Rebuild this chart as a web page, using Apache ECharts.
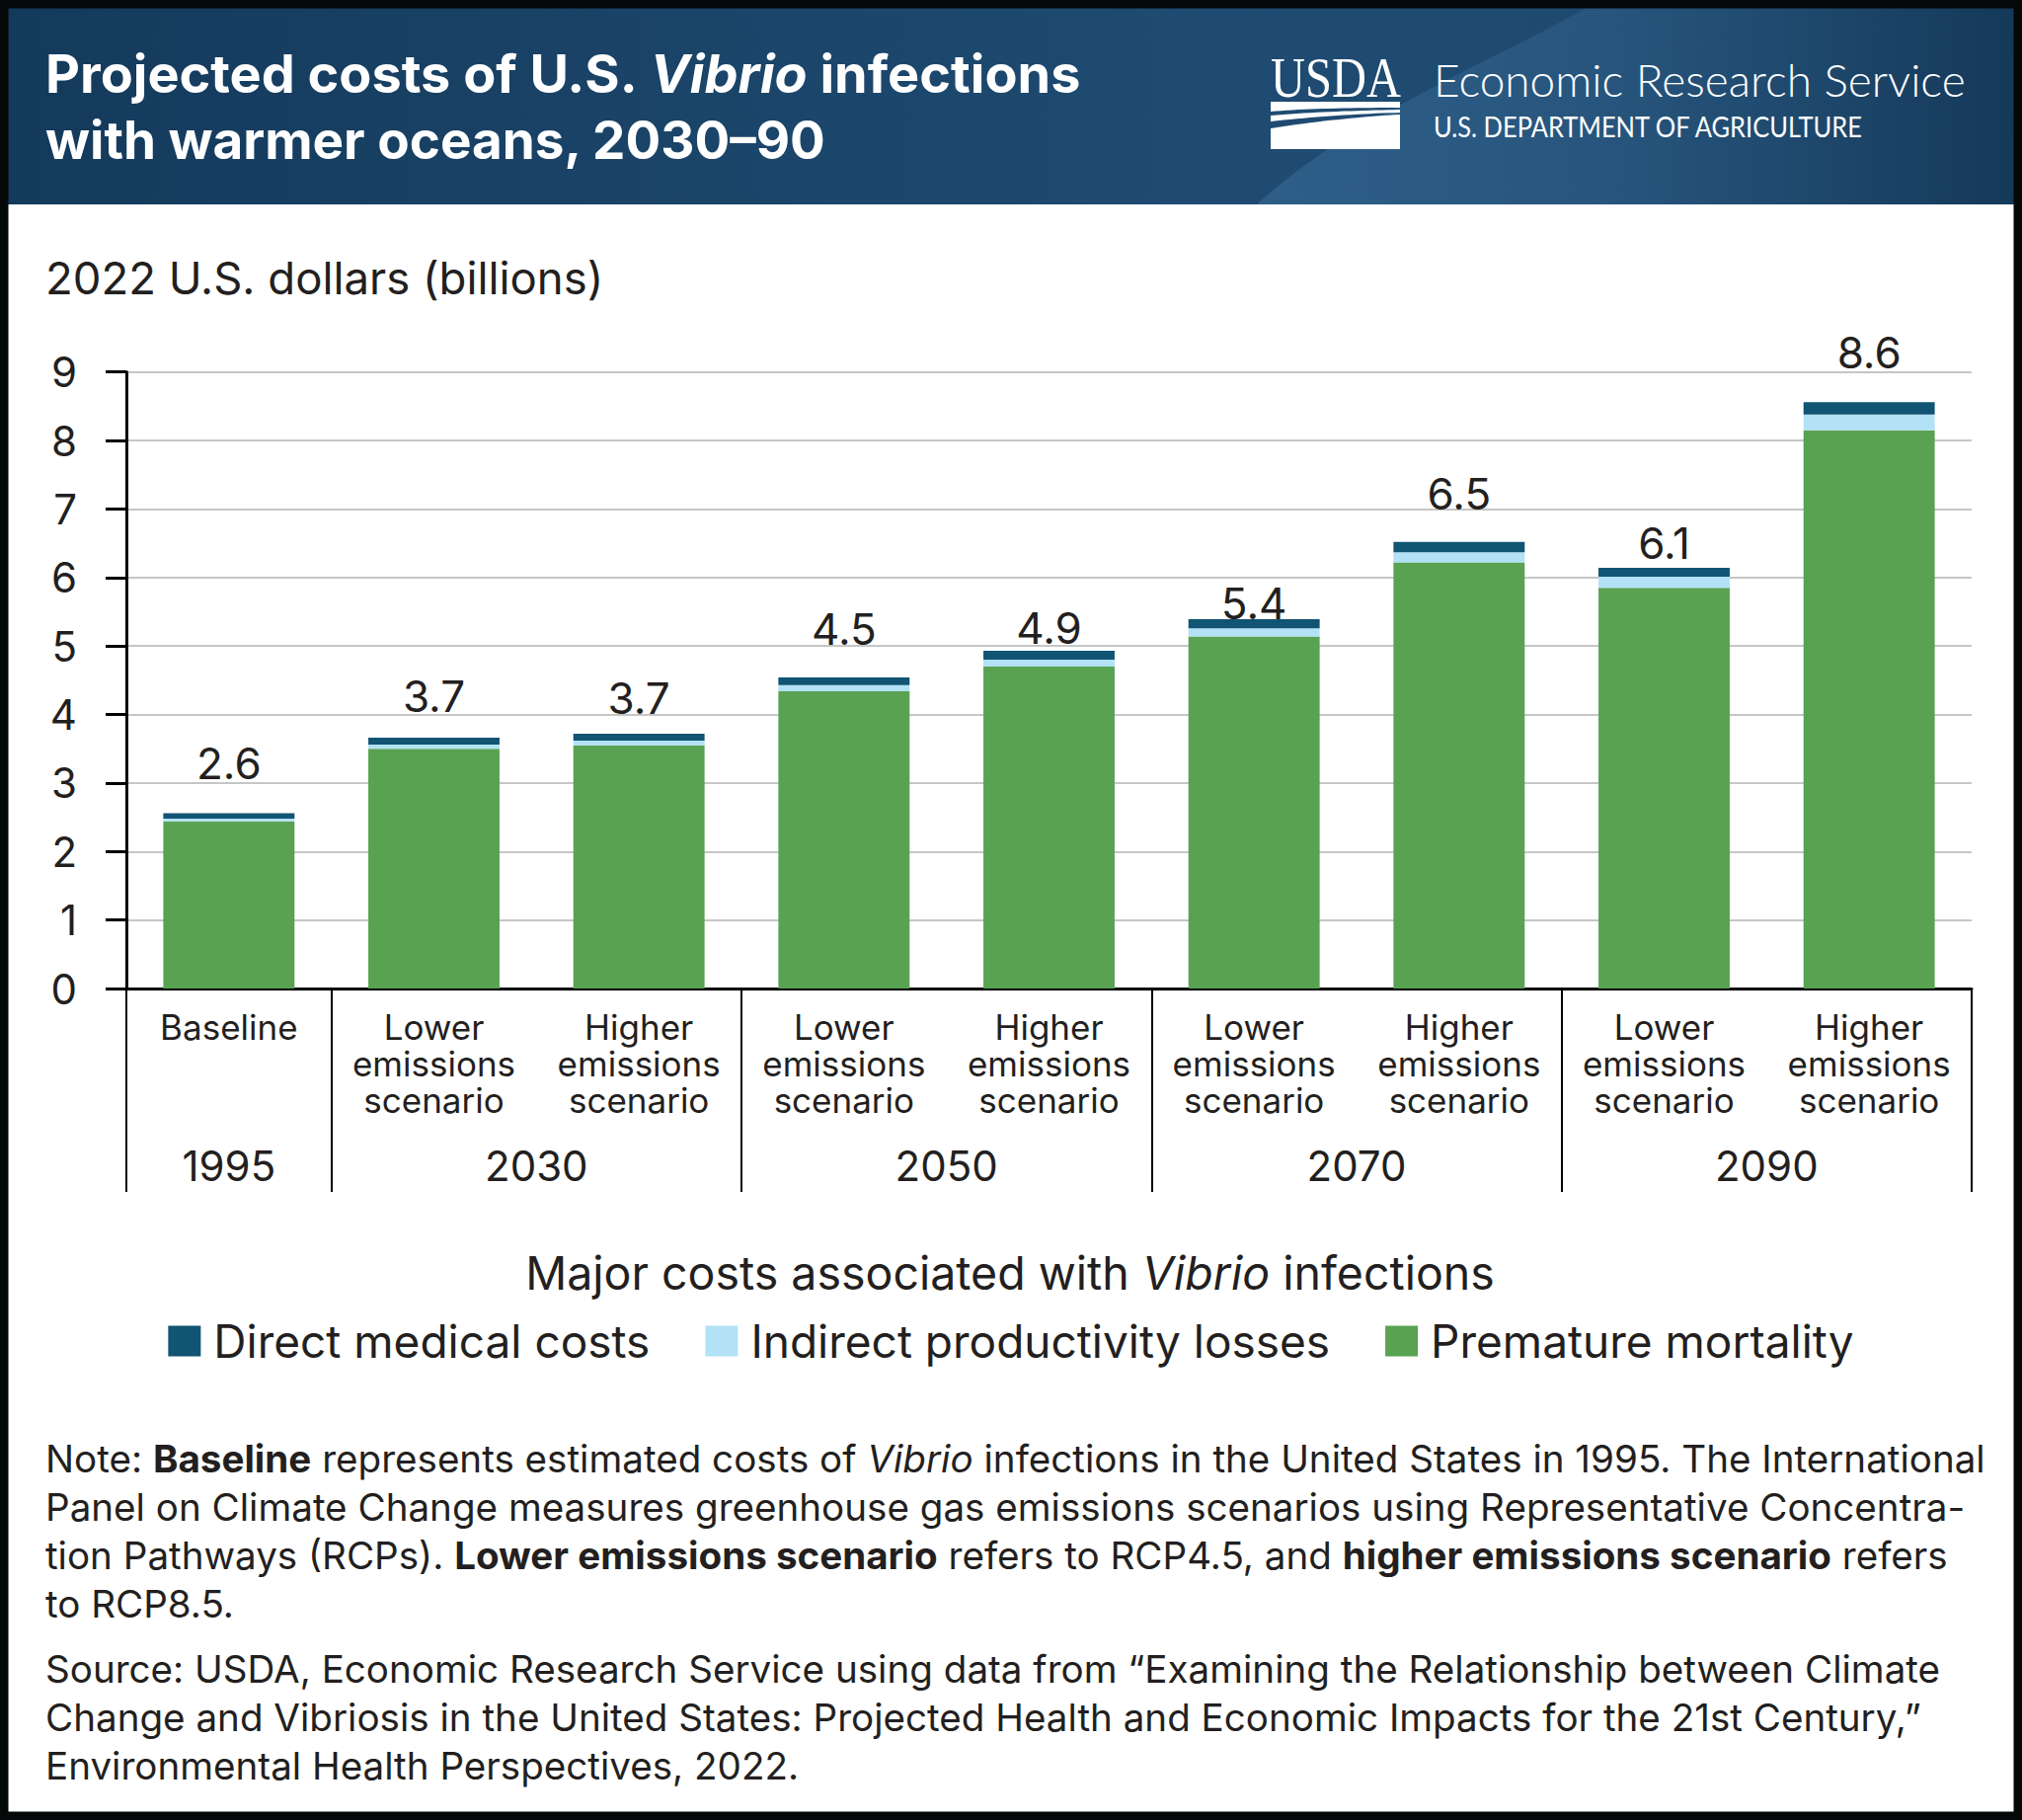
<!DOCTYPE html>
<html><head><meta charset="utf-8">
<script src="https://cdn.jsdelivr.net/npm/echarts@6/dist/echarts.min.js"></script>
<style>html,body{margin:0;padding:0;background:#fff}#chart{width:2048px;height:1843px}</style>
</head><body><div id="chart"></div>
<script>
// ---- data ----
const categories = ['Baseline',
  'Lower\nemissions\nscenario', 'Higher\nemissions\nscenario',
  'Lower\nemissions\nscenario', 'Higher\nemissions\nscenario',
  'Lower\nemissions\nscenario', 'Higher\nemissions\nscenario',
  'Lower\nemissions\nscenario', 'Higher\nemissions\nscenario'];
const yearLabels = ['1995', '2030', '2050', '2070', '2090'];
const groupSizes = [1, 2, 2, 2, 2];
const seriesNames = ['Direct medical costs', 'Indirect productivity losses', 'Premature mortality'];
const prematureMortality   = [2.44, 3.50, 3.55, 4.34, 4.70, 5.14, 6.22, 5.85, 8.15];
const indirectProductivity = [0.04, 0.06, 0.07, 0.09, 0.10, 0.12, 0.15, 0.16, 0.23];
const directMedical        = [0.08, 0.10, 0.10, 0.11, 0.13, 0.13, 0.15, 0.13, 0.18];
const yMin = 0, yMax = 9, yStep = 1;

// ---- style: gap (px) between each bar top and its total label, as placed in the original ----
const labelDistance = [28, 20, 14, 27, 1, -6, 27, 3, 28];

// ---- derived ----
const yearSlots = new Array(categories.length * 2 + 1).fill('');
const groupStarts = [];
let st = 0;
groupSizes.forEach((s, g) => { groupStarts.push(st); yearSlots[2 * st + s] = yearLabels[g]; st += s; });
const totals = categories.map((_, i) => prematureMortality[i] + indirectProductivity[i] + directMedical[i]);

const FONT = 'Inter';
const TXT = '#231f20';
const COL_DIRECT = '#115473', COL_INDIRECT = '#b3e1f5', COL_PREM = '#58a252';

// decoration helper: sample cubic bezier into polygon points
function bez(p0, p1, p2, p3, n) {
  const pts = [];
  for (let k = 0; k <= n; k++) {
    const t = k / n, u = 1 - t;
    pts.push([u*u*u*p0[0] + 3*u*u*t*p1[0] + 3*u*t*t*p2[0] + t*t*t*p3[0],
              u*u*u*p0[1] + 3*u*u*t*p1[1] + 3*u*t*t*p2[1] + t*t*t*p3[1]]);
  }
  return pts;
}

const chart = echarts.init(document.getElementById('chart'), null, {renderer: 'svg'});

const noteText = [
  '{n|Note: }{b|Baseline}{n| represents estimated costs of }{i|Vibrio}{n| infections in the United States in 1995. The International}',
  '{n|Panel on Climate Change measures greenhouse gas emissions scenarios using Representative Concentra-}',
  '{n|tion Pathways (RCPs). }{b|Lower emissions scenario}{n| refers to RCP4.5, and }{b|higher emissions scenario}{n| refers}',
  '{n|to RCP8.5.}'
].join('\n');
const sourceText = [
  'Source: USDA, Economic Research Service using data from \u201cExamining the Relationship between Climate',
  'Change and Vibriosis in the United States: Projected Health and Economic Impacts for the 21st Century,\u201d',
  'Environmental Health Perspectives, 2022.'
].join('\n');
const NOTE_FS = 38.6;
const noteRich = {
  n: {fontFamily: FONT, fontSize: NOTE_FS, fill: TXT, lineHeight: 49},
  b: {fontFamily: FONT, fontSize: NOTE_FS, fontWeight: 'bold', fill: TXT, lineHeight: 49},
  i: {fontFamily: FONT, fontSize: NOTE_FS, fontStyle: 'italic', fill: TXT, lineHeight: 49}
};

const bandPts = [[1620, 0], [2048, 0], [2048, 207]].concat(bez([1273, 207], [1380, 110], [1520, 60], [1620, 0], 30));
const stripe1 = [[1287, 103], [1418, 103]].concat(bez([1418, 109], [1370, 109], [1320, 110], [1287, 113], 20));
const stripe2 = bez([1287, 117], [1330, 113], [1380, 112], [1418, 111], 20).concat(bez([1418, 114], [1380, 115], [1330, 118], [1287, 123], 20));
const solid = bez([1287, 130], [1330, 123], [1380, 118], [1418, 116], 20).concat([[1418, 151], [1287, 151]]);

const option = {
  animation: false,
  backgroundColor: '#ffffff',
  textStyle: {fontFamily: FONT},
  grid: {left: 128, right: 51, top: 376.7, bottom: 842, containLabel: false},
  legend: {
    data: seriesNames,
    left: 'center', top: 1328,
    itemWidth: 33, itemHeight: 31, itemGap: 56,
    icon: 'rect',
    textStyle: {fontFamily: FONT, fontSize: 46, color: TXT, lineHeight: 50, padding: [0, 0, 0, 8]}
  },
  xAxis: [{
    type: 'category', data: categories, boundaryGap: true,
    axisLine: {show: true, lineStyle: {color: '#000', width: 3}},
    axisTick: {show: true, interval: (i) => groupStarts.indexOf(i) >= 0, length: 206, lineStyle: {color: '#000', width: 2}},
    axisLabel: {interval: 0, fontSize: 35, lineHeight: 37, color: TXT, margin: 20, fontFamily: FONT},
    splitLine: {show: false}
  }, {
    type: 'category', data: yearSlots, boundaryGap: false, position: 'bottom', gridIndex: 0,
    axisLine: {show: false}, axisTick: {show: false}, splitLine: {show: false},
    axisLabel: {interval: 0, fontSize: 42, lineHeight: 50, color: TXT, margin: 154, fontFamily: FONT}
  }],
  yAxis: {
    type: 'value', min: yMin, max: yMax, interval: yStep,
    axisLine: {show: true, lineStyle: {color: '#000', width: 3}},
    axisTick: {show: true, length: 21, lineStyle: {color: '#000', width: 3}},
    axisLabel: {fontSize: 42, color: TXT, margin: 50, fontFamily: FONT},
    splitLine: {show: true, lineStyle: {color: '#c6c6c6', width: 2}}
  },
  series: [
    {name: seriesNames[2], type: 'bar', stack: 'c', data: prematureMortality, barCategoryGap: '36%',
     itemStyle: {color: COL_PREM}},
    {name: seriesNames[1], type: 'bar', stack: 'c', data: indirectProductivity,
     itemStyle: {color: COL_INDIRECT}},
    {name: seriesNames[0], type: 'bar', stack: 'c',
     data: directMedical.map((v, i) => ({value: v, label: {distance: labelDistance[i]}})),
     itemStyle: {color: COL_DIRECT},
     label: {show: true, position: 'top', distance: 28, fontSize: 44, color: TXT, fontFamily: FONT,
             formatter: (p) => totals[p.dataIndex].toFixed(1)}}
  ],
  graphic: [
    {type: 'rect', z: 1, shape: {x: 0, y: 0, width: 2048, height: 207},
     style: {fill: new echarts.graphic.LinearGradient(0, 0, 1, 0, [
       {offset: 0, color: '#143a5b'}, {offset: 0.6, color: '#1f4b72'}, {offset: 0.8, color: '#1f4a70'}, {offset: 1, color: '#143858'}])}},
    {type: 'polygon', z: 2, shape: {points: bandPts},
     style: {fill: new echarts.graphic.LinearGradient(0, 0, 1, 0, [
       {offset: 0, color: 'rgba(80,140,190,0.30)'}, {offset: 1, color: 'rgba(80,140,190,0)'}])}},
    {type: 'text', z: 5, x: 46, y: 74,
     style: {text: '{b|Projected costs of U.S. }{bi|Vibrio}{b| infections}', verticalAlign: 'middle',
       rich: {b: {fontFamily: FONT, fontSize: 54, fontWeight: 'bold', fill: '#fff'},
              bi: {fontFamily: FONT, fontSize: 54, fontWeight: 'bold', fontStyle: 'italic', fill: '#fff'}}}},
    {type: 'text', z: 5, x: 46, y: 142,
     style: {text: 'with warmer oceans, 2030\u201390', verticalAlign: 'middle',
       fontFamily: FONT, fontSize: 53, fontWeight: 'bold', fill: '#fff'}},
    {type: 'text', z: 5, x: 1287, y: 79, scaleX: 0.85,
     style: {text: 'USDA', verticalAlign: 'middle', fontFamily: 'Liberation Serif', fontSize: 57, fill: '#fff'}},
    {type: 'polygon', z: 5, shape: {points: stripe1}, style: {fill: '#fff'}},
    {type: 'polygon', z: 5, shape: {points: stripe2}, style: {fill: '#fff'}},
    {type: 'polygon', z: 5, shape: {points: solid}, style: {fill: '#fff'}},
    {type: 'text', z: 5, x: 1452, y: 80,
     style: {text: 'Economic Research Service', verticalAlign: 'middle', fontFamily: 'Lato', fontWeight: 300, fontSize: 46, fill: '#fff'}},
    {type: 'text', z: 5, x: 1452, y: 129, scaleX: 0.91,
     style: {text: 'U.S. DEPARTMENT OF AGRICULTURE', verticalAlign: 'middle', fontFamily: 'Lato', fontSize: 28, fill: '#fff'}},
    {type: 'text', z: 5, x: 46, y: 281,
     style: {text: '2022 U.S. dollars (billions)', verticalAlign: 'middle', fontFamily: FONT, fontSize: 45.5, fill: TXT}},
    {type: 'text', z: 5, x: 1023, y: 1289,
     style: {text: '{n|Major costs associated with }{i|Vibrio}{n| infections}', align: 'center', verticalAlign: 'middle',
       rich: {n: {fontFamily: FONT, fontSize: 46.5, fill: TXT}, i: {fontFamily: FONT, fontSize: 46.5, fontStyle: 'italic', fill: TXT}}}},
    {type: 'text', z: 5, x: 46, y: 1452,
     style: {text: noteText, verticalAlign: 'top', rich: noteRich}},
    {type: 'text', z: 5, x: 46, y: 1665,
     style: {text: sourceText, verticalAlign: 'top', fontFamily: FONT, fontSize: NOTE_FS, lineHeight: 49, fill: TXT}},
    {type: 'rect', z: 20, shape: {x: 4, y: 4, width: 2040, height: 1835},
     style: {fill: 'none', stroke: '#050808', lineWidth: 9}}
  ]
};
chart.setOption(option);
</script></body></html>
